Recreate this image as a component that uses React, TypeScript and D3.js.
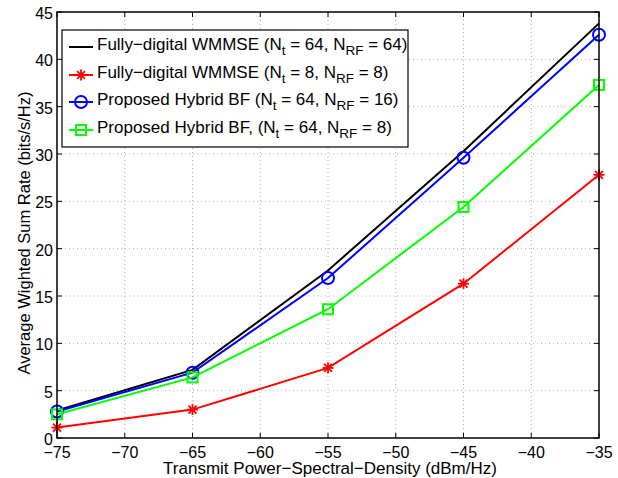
import React from "react";
import * as d3 from "d3";

const xValues = [-75, -65, -55, -45, -35];
const fullyDigital64 = [2.9, 7.2, 17.7, 30.3, 43.8];
const fullyDigital8 = [1.1, 3.0, 7.4, 16.3, 27.8];
const hybrid16 = [2.8, 6.9, 16.9, 29.6, 42.6];
const hybrid8 = [2.5, 6.4, 13.6, 24.4, 37.3];
const xTicks = [-75, -70, -65, -60, -55, -50, -45, -40, -35];
const yTicks = [0, 5, 10, 15, 20, 25, 30, 35, 40, 45];

type Series = { name: string; sub1: string; rest: string; values: number[]; color: string; marker: string };

const series: Series[] = [
  { name: "Fully\u2212digital WMMSE (N", sub1: "64", rest: "64)", values: fullyDigital64, color: "#000000", marker: "none" },
  { name: "Fully\u2212digital WMMSE (N", sub1: "8", rest: "8)", values: fullyDigital8, color: "#ff0000", marker: "star" },
  { name: "Proposed Hybrid BF (N", sub1: "64", rest: "16)", values: hybrid16, color: "#0000ff", marker: "circle" },
  { name: "Proposed Hybrid BF, (N", sub1: "64", rest: "8)", values: hybrid8, color: "#00ff00", marker: "square" },
];

const W = 618, H = 478;
const L = 57, R = 599, T = 12, B = 438;
const FONT = "Liberation Sans, Arial, Helvetica, sans-serif";

function Marker({ type, x, y, color }: { type: string; x: number; y: number; color: string }) {
  if (type === "circle") return <circle cx={x} cy={y} r={6} fill="none" stroke={color} strokeWidth={2} />;
  if (type === "square") return <rect x={x - 5} y={y - 5} width={10} height={10} fill="none" stroke={color} strokeWidth={2} />;
  if (type === "star") {
    const r = 5.5, d = r * 0.72;
    return (
      <g stroke={color} strokeWidth={1.8}>
        <line x1={x - r} y1={y} x2={x + r} y2={y} />
        <line x1={x} y1={y - r} x2={x} y2={y + r} />
        <line x1={x - d} y1={y - d} x2={x + d} y2={y + d} />
        <line x1={x - d} y1={y + d} x2={x + d} y2={y - d} />
      </g>
    );
  }
  return null;
}

export default function App() {
  const x = d3.scaleLinear().domain([-75, -35]).range([L, R]);
  const y = d3.scaleLinear().domain([0, 45]).range([B, T]);
  const line = d3.line<number>().x((_, i) => x(xValues[i])).y((d) => y(d));

  const legX = 62, legY = 30, legW = 346, legH = 117;
  const rowY = [47, 75, 102, 130];

  return (
    <svg width={W} height={H} style={{ position: "absolute", left: 0, top: 0, background: "#fff" }} fontFamily={FONT}>
      <rect x={0} y={0} width={W} height={H} fill="#fff" />
      {/* grid */}
      <g stroke="#999" strokeWidth={0.8} strokeDasharray="1,3">
        {xTicks.slice(1, -1).map((t) => (
          <line key={"gx" + t} x1={x(t)} x2={x(t)} y1={T} y2={B} />
        ))}
        {yTicks.slice(1, -1).map((t) => (
          <line key={"gy" + t} x1={L} x2={R} y1={y(t)} y2={y(t)} />
        ))}
      </g>
      {/* ticks */}
      <g stroke="#000" strokeWidth={1}>
        {xTicks.map((t) => (
          <g key={"tx" + t}>
            <line x1={x(t)} x2={x(t)} y1={B} y2={B - 5} />
            <line x1={x(t)} x2={x(t)} y1={T} y2={T + 5} />
          </g>
        ))}
        {yTicks.map((t) => (
          <g key={"ty" + t}>
            <line x1={L} x2={L + 5} y1={y(t)} y2={y(t)} />
            <line x1={R} x2={R - 5} y1={y(t)} y2={y(t)} />
          </g>
        ))}
      </g>
      {/* lines */}
      {series.map((s) => (
        <g key={s.color}>
          <path d={line(s.values) || ""} fill="none" stroke={s.color} strokeWidth={2} />
          {s.values.map((v, i) => (
            <Marker key={i} type={s.marker} x={x(xValues[i])} y={y(v)} color={s.color} />
          ))}
        </g>
      ))}
      {/* box */}
      <rect x={L} y={T} width={R - L} height={B - T} fill="none" stroke="#000" strokeWidth={1.5} />
      {/* tick labels */}
      <g fontSize={16} fill="#000">
        {xTicks.map((t) => (
          <text key={"lx" + t} x={x(t)} y={B + 20} textAnchor="middle">
            {t < 0 ? "\u2212" + Math.abs(t) : String(t)}
          </text>
        ))}
        {yTicks.map((t) => (
          <text key={"ly" + t} x={L - 4} y={y(t) + 7} textAnchor="end">
            {t}
          </text>
        ))}
      </g>
      <text x={(L + R) / 2 + 2} y={474} textAnchor="middle" fontSize={17}>
        Transmit Power{"\u2212"}Spectral{"\u2212"}Density (dBm/Hz)
      </text>
      <text transform={`translate(30, ${(T + B) / 2 + 8}) rotate(-90)`} textAnchor="middle" fontSize={16.5}>
        Average Wighted Sum Rate (bits/s/Hz)
      </text>
      {/* legend */}
      <rect x={legX} y={legY} width={legW} height={legH} fill="#fff" stroke="#000" strokeWidth={1.2} />
      {series.map((s, i) => (
        <g key={"leg" + i}>
          <line x1={69} x2={93} y1={rowY[i]} y2={rowY[i]} stroke={s.color} strokeWidth={2} />
          <Marker type={s.marker} x={81} y={rowY[i]} color={s.color} />
          <text x={97} y={rowY[i] + 3} fontSize={17}>
            {s.name}
            <tspan dy={5} fontSize={13.5}>t</tspan>
            <tspan dy={-5}>{" = " + s.sub1 + ", N"}</tspan>
            <tspan dy={5} fontSize={13.5}>RF</tspan>
            <tspan dy={-5}>{" = " + s.rest}</tspan>
          </text>
        </g>
      ))}
    </svg>
  );
}
